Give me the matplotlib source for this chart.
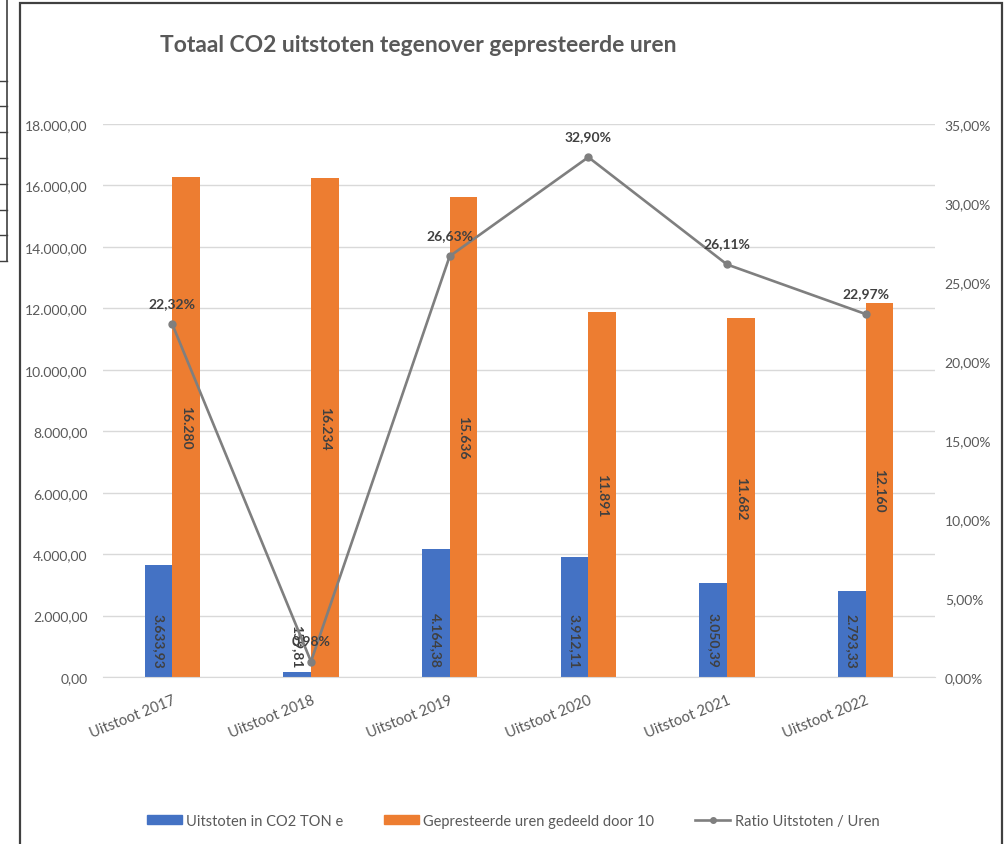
import matplotlib
matplotlib.use("Agg")
import matplotlib.pyplot as plt
import matplotlib.patches as mpatches
from matplotlib.lines import Line2D
from matplotlib.ticker import FuncFormatter, MultipleLocator
import numpy as np

# ---------------------------------------------------------------------------
# Data
# ---------------------------------------------------------------------------
categories = ["Uitstoot 2017", "Uitstoot 2018", "Uitstoot 2019",
              "Uitstoot 2020", "Uitstoot 2021", "Uitstoot 2022"]
uitstoot = [3633.93, 159.81, 4164.38, 3912.11, 3050.39, 2793.33]
uren_div10 = [16280, 16234, 15636, 11891, 11682, 12160]
ratio = [0.2232, 0.0098, 0.2663, 0.3290, 0.2611, 0.2297]

series_names = ["Uitstoten in CO2 TON e",
                "Gepresteerde uren gedeeld door 10",
                "Ratio Uitstoten / Uren"]
title = "Totaal CO2 uitstoten tegenover gepresteerde uren"

# ---------------------------------------------------------------------------
# Style
# ---------------------------------------------------------------------------
BLUE = "#4472C4"
ORANGE = "#ED7D31"
LINE = "#7F7F7F"
GRID = "#D9D9D9"
TXT = "#595959"
LBL = "#404040"
FONT = ["Lato", "DejaVu Sans"]

plt.rcParams["font.family"] = FONT


def nl_number(v, decimals=2):
    s = f"{v:,.{decimals}f}"
    return s.replace(",", "X").replace(".", ",").replace("X", ".")


W, H = 1008, 845
fig = plt.figure(figsize=(W / 100, H / 100), dpi=100)
fig.patch.set_facecolor("white")

ax_l, ax_r, ax_b, ax_t = 103, 935, 678, 125
ax = fig.add_axes([ax_l / W, 1 - ax_b / H, (ax_r - ax_l) / W, (ax_b - ax_t) / H])

x = np.arange(len(categories))
bw = 0.2
b1 = ax.bar(x - bw / 2, uitstoot, bw, color=BLUE, zorder=2)
b2 = ax.bar(x + bw / 2, uren_div10, bw, color=ORANGE, zorder=2)

ax.set_xlim(-0.5, len(categories) - 0.5)
ax.set_ylim(0, 18000)
ax.yaxis.set_major_locator(MultipleLocator(2000))
ax.yaxis.set_major_formatter(FuncFormatter(lambda v, p: nl_number(v)))
ax.grid(axis="y", color=GRID, lw=1, zorder=0)
ax.set_axisbelow(True)
for s in ["top", "left", "right"]:
    ax.spines[s].set_visible(False)
ax.spines["bottom"].set_color(GRID)
ax.tick_params(axis="y", length=0, pad=11, labelsize=10, labelcolor=TXT)
ax.tick_params(axis="x", length=0, pad=11, labelsize=10.5, labelcolor=TXT)
ax.set_xticks(x)
ax.set_xticklabels(categories, rotation=22, ha="right", va="top",
                   rotation_mode="anchor")

# bar labels: blue at inside base, orange centred
for rect, v in zip(b1, uitstoot):
    ax.annotate(nl_number(v), (rect.get_x() + rect.get_width() / 2, 0),
                xytext=(0, 7), textcoords="offset points",
                rotation=270, ha="center", va="bottom", fontsize=10,
                fontweight="bold", color=LBL, zorder=4)
for rect, v in zip(b2, uren_div10):
    ax.text(rect.get_x() + rect.get_width() / 2, v / 2,
            nl_number(v, 0), rotation=270, ha="center", va="center",
            fontsize=10, fontweight="bold", color=LBL, zorder=4)

# ratio line on secondary axis
ax2 = ax.twinx()
ax2.plot(x, ratio, color=LINE, lw=1.9, marker="o", ms=5, zorder=3)
ax2.set_ylim(0, 0.35)
ax2.yaxis.set_major_locator(MultipleLocator(0.05))
ax2.yaxis.set_major_formatter(
    FuncFormatter(lambda v, p: nl_number(v * 100) + "%"))
for s in ax2.spines.values():
    s.set_visible(False)
ax2.tick_params(axis="y", length=0, pad=7, labelsize=10, labelcolor=TXT)
for xi, r in zip(x, ratio):
    ax2.annotate(nl_number(r * 100) + "%", (xi, r), xytext=(0, 11),
                 textcoords="offset points", ha="center", va="bottom",
                 fontsize=10, fontweight="bold", color=LBL)

# title
fig.text(160 / W, 1 - 45 / H, title, ha="left", va="center",
         fontsize=16.5, fontweight="bold", color=TXT)

# legend
handles = [mpatches.Patch(color=BLUE), mpatches.Patch(color=ORANGE),
           Line2D([], [], color=LINE, lw=1.9, marker="o", ms=4)]
fig.legend(handles, series_names, loc="center", ncol=3, frameon=False,
           bbox_to_anchor=(513 / W, 1 - 822 / H), fontsize=10.5,
           labelcolor=TXT, handlelength=2.4, handletextpad=0.3,
           columnspacing=2.8, handleheight=0.6)

# chart frame and the edge of the sheet table behind it
fig.add_artist(mpatches.Rectangle((20 / W, -0.02), 982 / W, 1.02 - 4 / H,
                                  transform=fig.transFigure, fill=False,
                                  edgecolor="#404040", lw=1.6))
fig.add_artist(Line2D([7 / W, 7 / W], [1, 1 - 262 / H],
                      transform=fig.transFigure, color="#404040", lw=1.2))
for yy in [82, 107, 133, 159, 185, 211, 236, 262]:
    fig.add_artist(Line2D([0, 7 / W], [1 - yy / H, 1 - yy / H],
                          transform=fig.transFigure, color="#404040", lw=1.0))

fig.savefig("out.png", dpi=100, facecolor="white")
